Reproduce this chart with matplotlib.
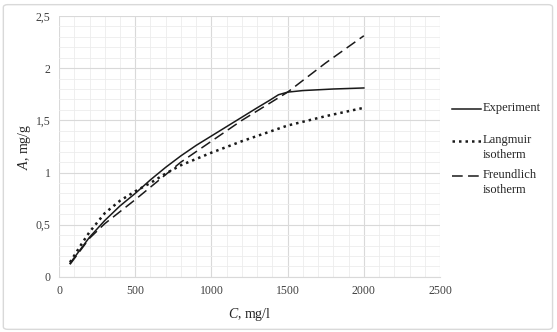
import matplotlib
matplotlib.use("Agg")
import matplotlib.pyplot as plt
from matplotlib.lines import Line2D
from matplotlib.patches import FancyBboxPatch
from matplotlib.ticker import MultipleLocator, FuncFormatter

plt.rcParams['font.family'] = ['Liberation Serif', 'DejaVu Serif']
plt.rcParams['mathtext.fontset'] = 'custom'
plt.rcParams['mathtext.it'] = 'Liberation Serif:italic'
plt.rcParams['mathtext.rm'] = 'Liberation Serif'

# values
exp_c = [72, 200, 300, 400, 500, 600, 700, 800, 900, 1000, 1100, 1200, 1300,
         1380, 1440, 1500, 1600, 1800, 2000]
exp_a = [0.13, 0.38, 0.54, 0.68, 0.80, 0.93, 1.05, 1.16, 1.26, 1.35, 1.44,
         1.53, 1.62, 1.69, 1.745, 1.77, 1.785, 1.80, 1.81]

lang_c = [72, 150, 200, 300, 400, 500, 600, 700, 800, 1000, 1200, 1500, 1750, 2000]
lang_a = [0.14, 0.32, 0.43, 0.61, 0.73, 0.82, 0.90, 0.99, 1.07, 1.19, 1.30,
          1.45, 1.54, 1.62]

freu_c = [72, 200, 300, 500, 800, 1000, 1200, 1400, 1500, 1750, 2000]
freu_a = [0.12, 0.37, 0.51, 0.74, 1.10, 1.30, 1.50, 1.68, 1.77, 2.05, 2.31]

names = ['Experiment', 'Langmuir\nisotherm', 'Freundlich\nisotherm']
styles = ['-', (0, (1, 1.6)), (0, (7, 3.5))]
widths = [1.1, 1.8, 1.1]

W, H = 557, 332
fig = plt.figure(figsize=(5.57, 3.32), dpi=100)
fig.patches.append(FancyBboxPatch((0.006, 0.008), 0.986, 0.978,
                                  boxstyle="round,pad=0,rounding_size=0.008",
                                  transform=fig.transFigure, fill=False,
                                  edgecolor='#d9d9d9', linewidth=1.0))

ax = fig.add_axes([0.106, 0.166, 0.684, 0.786])

for (c, a), name, ls, lw in zip([(exp_c, exp_a), (lang_c, lang_a), (freu_c, freu_a)],
                                names, styles, widths):
    ax.plot(c, a, color='#1a1a1a', lw=lw, linestyle=ls, label=name)

ax.set_xlim(0, 2500)
ax.set_ylim(0, 2.5)
ax.xaxis.set_major_locator(MultipleLocator(500))
ax.xaxis.set_minor_locator(MultipleLocator(100))
ax.yaxis.set_major_locator(MultipleLocator(0.5))
ax.yaxis.set_minor_locator(MultipleLocator(0.1))
ax.yaxis.set_major_formatter(FuncFormatter(lambda v, p: f"{v:g}".replace('.', ',')))

ax.grid(which='major', color='#d9d9d9', lw=0.8)
ax.grid(which='minor', color='#ececec', lw=0.6)
ax.set_axisbelow(True)
for s in ['top', 'right', 'left']:
    ax.spines[s].set_visible(False)
ax.spines['bottom'].set_color('#d9d9d9')
ax.tick_params(which='both', length=0, labelsize=8.5, colors='#404040', pad=6)

ax.set_xlabel(r'$C$, mg/l', fontsize=10, color='#262626', labelpad=6)
ax.set_ylabel(r'$A$, mg/g', fontsize=10, color='#262626')
ax.yaxis.set_label_coords(-0.068, 0.5)

# legend, drawn by hand so the line sits at the first text row
rows_y = [109, 141, 176]
for y, name, ls, lw in zip(rows_y, names, styles, widths):
    fy = 1 - y / H
    fig.add_artist(Line2D([452 / W, 481 / W], [fy, fy], transform=fig.transFigure,
                          color='#1a1a1a', lw=lw, linestyle=ls))
    fig.text(483 / W, fy + 6.5 / H, name, fontsize=9, color='#262626',
             va='top', ha='left', linespacing=1.25)

fig.savefig('out.png', dpi=100)
